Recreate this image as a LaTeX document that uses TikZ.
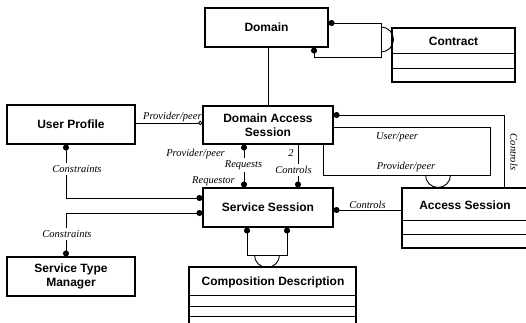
\documentclass[tikz,border=0pt]{standalone}
\usepackage{fontspec}
\setmainfont{Liberation Serif}
\setsansfont{Liberation Sans}
\usetikzlibrary{arrows.meta}
\begin{document}
\begin{tikzpicture}[x=1pt,y=-1pt,
  box/.style={draw, line width=1.1pt, inner sep=0pt, font=\sffamily\bfseries\fontsize{12}{14}\selectfont, align=center},
  ttl/.style={inner sep=0pt, font=\sffamily\bfseries\fontsize{12}{14}\selectfont},
  lbl/.style={inner sep=1pt, font=\itshape\fontsize{10.5}{12}\selectfont},
  wlbl/.style={lbl, fill=white, inner sep=2pt},
  conn/.style={line width=0.9pt},
  sep/.style={line width=0.9pt},
  dd/.style={conn, {Circle[length=6pt]}-{Circle[length=6pt]}},
  ds/.style={conn, {Circle[length=6pt]}-},
  de/.style={conn, -{Circle[length=6pt]}},
  doe/.style={conn, -{Circle[open,length=4.5pt]}},
]
\useasboundingbox (0,0) rectangle (526,323);
\clip (0,0) rectangle (526,323);

% boxes
\node[box, minimum width=123pt, minimum height=39pt] (domain) at (266.5,27.5) {Domain};
\node[box, minimum width=123pt, minimum height=54pt] (contract) at (453.5,55) {};
\node[ttl] (contractT) at (453.5,41) {Contract};
\node[box, minimum width=130pt, minimum height=38pt] (das) at (268,125) {Domain Access\\Session};
\node[box, minimum width=128pt, minimum height=39pt] (up) at (71,124.5) {User Profile};
\node[box, minimum width=130pt, minimum height=39pt] (ss) at (268,207.5) {Service Session};
\node[box, minimum width=128pt, minimum height=39pt] (stm) at (71,276.5) {Service Type\\Manager};
\node[box, minimum width=143pt, minimum height=60pt] (as) at (473.5,218) {};
\node[ttl] (asT) at (465,205) {Access Session};
\node[box, minimum width=167pt, minimum height=72pt] (cd) at (272.5,303) {};
\node[ttl] (cdT) at (273,282) {Composition Description};

% compartment lines
\draw[sep] (contract.west |- 0,53) -- (contract.east |- 0,53);
\draw[sep] (contract.west |- 0,68) -- (contract.east |- 0,68);
\draw[sep] (as.west |- 0,220) -- (as.east |- 0,220);
\draw[sep] (as.west |- 0,234) -- (as.east |- 0,234);
\draw[sep] (cd.west |- 0,295) -- (cd.east |- 0,295);
\draw[sep] (cd.west |- 0,306) -- (cd.east |- 0,306);
\draw[sep] (cd.west |- 0,316) -- (cd.east |- 0,316);

% Domain - DAS
\draw[conn] (das.north) -- (das.north |- domain.south);

% Domain - Contract
\coordinate (dc1) at (381,23);
\coordinate (dc2) at (381,57);
\draw[dd] (domain.east |- dc1) -- (dc1) -- (dc2) -- (314,57) -- (domain.south -| 314,0);
\draw[conn] (381,27) arc[start angle=90, end angle=-90, radius=12.5pt];

% User Profile - DAS
\draw[doe] (up.east |- 0,123) -- node[lbl, above, pos=0.55] {Provider/peer} (das.west |- 0,123);

% User Profile - Service Session
\draw[dd] (up.south -| 66,0) -- (66,198) -- (ss.west |- 0,198);
\node[wlbl] (c1) at (77,169) {Constraints};

% Service Type Manager - Service Session
\draw[dd] (ss.west |- 0,213) -- (66,213) -- (stm.north -| 66,0);
\node[wlbl] (c2) at (67,234) {Constraints};

% DAS - SS requests
\draw[dd] (das.south -| 244,0) -- (ss.north -| 244,0);
\node[wlbl] (req) at (243.5,165) {Requests};
\node[lbl, anchor=east] (pp1) at (226,154) {Provider/peer};
\node[lbl, anchor=east] (rq) at (236,181) {Requestor};

% DAS - SS controls
\draw[de] (das.south -| 298,0) -- (ss.north -| 298,0);
\node[lbl] (two) at (291,153) {2};
\node[wlbl] (ctl1) at (293.5,170) {Controls};

% DAS - Access Session controls
\draw[ds] (das.east |- 0,115) -- (504,115) -- (as.north -| 504,0);
\node[lbl, rotate=-90] (ctl2) at (514,152) {Controls};

% DAS - Access Session peer loop
\draw[conn] (das.east |- 0,127) -- (490,127) -- (490,175) -- (323,175) -- (das.south -| 323,0);
\node[lbl] (up2) at (397,137) {User/peer};
\node[lbl] (pp2) at (406,167) {Provider/peer};
\draw[conn] (425.5,175) arc[start angle=180, end angle=360, radius=12.5pt];

% SS - Composition Description
\draw[dd] (ss.south -| 247,0) -- (247,255) -- (287,255) -- (ss.south -| 287,0);
\draw[conn] (254.5,255) arc[start angle=180, end angle=360, radius=12.5pt];

% SS - Access Session
\draw[ds] (ss.east |- 0,210) -- node[lbl, above] {Controls} (as.west |- 0,210);
\end{tikzpicture}
\end{document}
